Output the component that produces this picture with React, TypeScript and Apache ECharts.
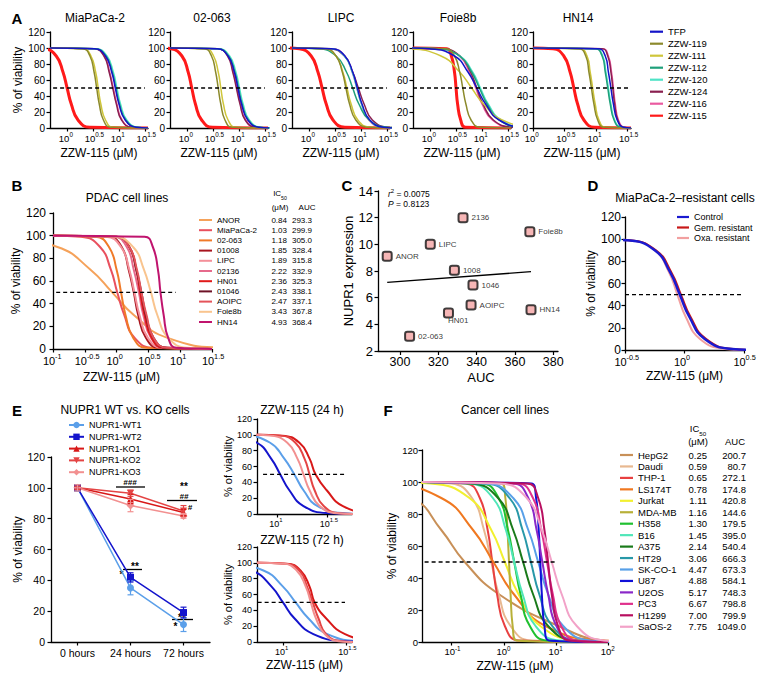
import React, { useEffect, useRef } from "react";
import * as echarts from "echarts";

const FONT = "'Liberation Sans', Arial, Helvetica, sans-serif";

// viability levels (%) at which each curve's log10 concentration was read
const LEVELS = [100, 99, 90, 70, 50, 30, 10, 1, 0];

// ---------- Panel A ----------
const A_COMPOUNDS = ["TFP", "ZZW-119", "ZZW-111", "ZZW-112", "ZZW-120", "ZZW-124", "ZZW-116", "ZZW-115"];
const A_COLORS = ["#1414c8", "#8c8a2c", "#cfc63a", "#1fa07a", "#4fe3c6", "#8a2050", "#ea5aa0", "#ff1a1a"];
const A_PANELS = ["MiaPaCa-2", "02-063", "LIPC", "Foie8b", "HN14"];
const A_MIAPACA2_X = [
  [-0.33, 0.53, 0.74, 0.86, 0.93, 1.0, 1.12, 1.33, 1.56],
  [-0.33, 0.3, 0.44, 0.52, 0.57, 0.62, 0.7, 0.84, 1.56],
  [-0.33, 0.31, 0.46, 0.55, 0.6, 0.65, 0.74, 0.89, 1.56],
  [-0.33, 0.54, 0.75, 0.87, 0.94, 1.01, 1.13, 1.34, 1.56],
  [-0.33, 0.56, 0.77, 0.89, 0.96, 1.03, 1.15, 1.36, 1.56],
  [-0.33, 0.52, 0.71, 0.81, 0.88, 0.95, 1.05, 1.24, 1.56],
  [-0.33, 0.53, 0.72, 0.82, 0.89, 0.96, 1.06, 1.25, 1.56],
  [-0.67, -0.44, -0.21, -0.08, 0.0, 0.08, 0.21, 0.44, 1.56],
];
const A_02063_X = [
  [-0.33, 0.58, 0.79, 0.91, 0.98, 1.05, 1.17, 1.38, 1.58],
  [-0.33, 0.33, 0.47, 0.55, 0.6, 0.65, 0.73, 0.87, 1.56],
  [-0.33, 0.36, 0.51, 0.6, 0.65, 0.7, 0.79, 0.94, 1.56],
  [-0.33, 0.59, 0.8, 0.92, 0.99, 1.06, 1.18, 1.39, 1.59],
  [-0.33, 0.61, 0.82, 0.94, 1.01, 1.08, 1.2, 1.41, 1.61],
  [-0.33, 0.59, 0.78, 0.88, 0.95, 1.02, 1.12, 1.31, 1.56],
  [-0.33, 0.6, 0.79, 0.89, 0.96, 1.03, 1.13, 1.32, 1.56],
  [-0.51, -0.31, -0.1, 0.02, 0.09, 0.16, 0.28, 0.49, 1.56],
];
const A_LIPC_X = [
  [-0.33, 0.43, 0.69, 0.84, 0.93, 1.02, 1.17, 1.43, 1.68],
  [-0.33, 0.31, 0.52, 0.64, 0.71, 0.78, 0.9, 1.11, 1.56],
  [-0.33, 0.29, 0.52, 0.65, 0.73, 0.81, 0.94, 1.17, 1.56],
  [-0.33, 0.17, 0.52, 0.72, 0.84, 0.96, 1.16, 1.51, 1.84],
  [-0.33, 0.42, 0.68, 0.83, 0.92, 1.01, 1.16, 1.42, 1.67],
  [-0.33, 0.38, 0.68, 0.84, 0.95, 1.06, 1.22, 1.52, 1.81],
  [-0.33, 0.44, 0.69, 0.83, 0.92, 1.01, 1.15, 1.4, 1.63],
  [-0.42, -0.19, 0.04, 0.17, 0.25, 0.33, 0.46, 0.69, 1.56],
];
const A_FOIE8B_X = [
  [-0.46, -0.01, 0.47, 0.73, 0.9, 1.07, 1.33, 1.81, 2.26],
  [-0.33, 0.3, 0.47, 0.57, 0.63, 0.69, 0.79, 0.96, 1.56],
  [-1.08, -0.45, 0.21, 0.57, 0.8, 1.03, 1.39, 2.05, 2.68],
  [-0.33, 0.15, 0.57, 0.8, 0.95, 1.1, 1.33, 1.75, 2.15],
  [-0.33, 0.14, 0.57, 0.82, 0.97, 1.12, 1.37, 1.8, 2.22],
  [-0.33, 0.23, 0.58, 0.78, 0.9, 1.02, 1.22, 1.57, 1.9],
  [-0.33, 0.21, 0.56, 0.76, 0.88, 1.0, 1.2, 1.55, 1.88],
  [-0.33, 0.32, 0.41, 0.47, 0.5, 0.53, 0.59, 0.68, 1.56],
];
const A_HN14_X = [
  [0, 1.04, 1.15, 1.2, 1.24, 1.28, 1.34, 1.44, 1.56],
  [0, 0.73, 0.84, 0.89, 0.93, 0.97, 1.03, 1.13, 1.56],
  [0, 0.75, 0.86, 0.91, 0.95, 0.99, 1.05, 1.15, 1.56],
  [0, 0.99, 1.1, 1.15, 1.19, 1.23, 1.29, 1.39, 1.56],
  [0, 1.0, 1.11, 1.16, 1.2, 1.24, 1.3, 1.4, 1.56],
  [0, 1.1, 1.19, 1.24, 1.27, 1.3, 1.35, 1.44, 1.56],
  [0, 1.11, 1.2, 1.25, 1.28, 1.31, 1.36, 1.45, 1.56],
  [0, 0.32, 0.49, 0.59, 0.65, 0.71, 0.81, 0.98, 1.56],
];
const A_RANGES = [[-0.33, 1.56], [-0.33, 1.56], [-0.33, 1.56], [-0.33, 1.56], [0, 1.56]];
const A_DASH = [[-0.27, 1.5], [-0.27, 1.5], [-0.27, 1.5], [-0.33, 1.5], [0, 1.56]];
const A_TICKS = [0, 0.5, 1, 1.5];

// ---------- Panel B ----------
const B_LINES = ["ANOR", "MiaPaCa-2", "02-063", "01008", "LIPC", "02136", "HN01", "01046", "AOIPC", "Foie8b", "HN14"];
const B_COLORS = ["#f5a25a", "#e9505e", "#f07a28", "#a8141e", "#f4909a", "#e66a8c", "#e01a1a", "#6e1226", "#e4545a", "#f9c48e", "#c0146e"];
const B_IC50 = [0.84, 1.03, 1.18, 1.85, 1.89, 2.22, 2.36, 2.43, 2.47, 3.43, 4.93];
const B_AUC = [293.3, 299.9, 305.0, 328.4, 315.8, 332.9, 325.3, 338.1, 337.1, 367.8, 368.4];
const B_X = [
  [-2.8, -1.89, -0.93, -0.41, -0.07, 0.27, 0.79, 1.75, 2.66],
  [-1.0, -0.56, -0.26, -0.09, 0.01, 0.12, 0.28, 0.58, 1.5],
  [-1.0, -0.33, -0.12, 0.0, 0.07, 0.14, 0.26, 0.47, 1.5],
  [-1.0, -0.13, 0.08, 0.19, 0.27, 0.34, 0.46, 0.67, 1.5],
  [-1.0, -0.17, 0.07, 0.2, 0.28, 0.36, 0.49, 0.72, 1.5],
  [-1.0, -0.05, 0.16, 0.27, 0.35, 0.42, 0.54, 0.75, 1.5],
  [-1.0, 0.01, 0.2, 0.31, 0.37, 0.44, 0.55, 0.74, 1.5],
  [-1.0, -0.01, 0.2, 0.31, 0.39, 0.46, 0.58, 0.79, 1.5],
  [-1.0, -0.01, 0.2, 0.32, 0.39, 0.47, 0.58, 0.79, 1.5],
  [-1.0, -0.04, 0.26, 0.43, 0.54, 0.64, 0.81, 1.11, 1.5],
  [-1.0, 0.44, 0.57, 0.65, 0.69, 0.74, 0.81, 0.94, 1.5],
];
const B_TICKS = [-1, -0.5, 0, 0.5, 1, 1.5];
const B_DASH = [-0.95, 0.93];

// ---------- Panel C ----------
const C_LABELS = ["ANOR", "02-063", "LIPC", "2136", "1008", "1046", "AOIPC", "HN01", "Foie8b", "HN14"];
const C_AUC = [293.3, 305.0, 315.8, 332.9, 328.4, 338.1, 337.1, 325.3, 367.8, 368.4];
const C_NUPR1 = [9.1, 3.1, 10.0, 12.0, 8.05, 6.95, 5.45, 4.85, 10.95, 5.1];
const C_FIT_AUC = [293.3, 368.4];
const C_FIT_NUPR1 = [7.15, 7.95];
const C_XTICKS = [300, 320, 340, 360, 380];

// ---------- Panel D ----------
const D_NAMES = ["Control", "Gem. resistant", "Oxa. resistant"];
const D_COLORS = ["#1a1ad0", "#c81818", "#f2a0a0"];
const D_X = [
  [-0.71, -0.48, -0.25, -0.12, -0.04, 0.04, 0.17, 0.4, 0.63],
  [-0.7, -0.47, -0.24, -0.11, -0.03, 0.05, 0.18, 0.41, 0.64],
  [-0.66, -0.46, -0.25, -0.13, -0.06, 0.01, 0.13, 0.34, 0.5],
];
const D_TICKS = [-0.5, 0, 0.5];
const D_DASH = [-0.5, 0.5];

// ---------- Panel E ----------
const E_TIMES = ["0 hours", "24 hours", "72 hours"];
const E_NAMES = ["NUPR1-WT1", "NUPR1-WT2", "NUPR1-KO1", "NUPR1-KO2", "NUPR1-KO3"];
const E_COLORS = ["#5b9fe9", "#1414cc", "#d81818", "#e44444", "#f29090"];
const E_MEAN = [
  [100, 35.1, 11.3],
  [100, 41.9, 19.1],
  [100, 92.8, 84.0],
  [100, 96.5, 85.0],
  [100, 88.5, 81.8],
];
const E_SD = [
  [2, 4.5, 4.5],
  [1.5, 3, 3.5],
  [1, 3, 2],
  [1, 2, 3.5],
  [2, 4, 1.5],
];
const E24_X = [
  [0.42, 0.67, 0.93, 1.07, 1.17, 1.26, 1.4, 1.67, 1.92],
  [0.32, 0.55, 0.8, 0.94, 1.03, 1.12, 1.26, 1.51, 1.74],
  [0.8, 1.05, 1.22, 1.32, 1.38, 1.49, 1.65, 1.95, 2.24],
  [0.8, 1.03, 1.18, 1.27, 1.32, 1.37, 1.46, 1.61, 1.75],
  [0.76, 0.93, 1.1, 1.2, 1.26, 1.32, 1.42, 1.59, 1.76],
];
const E72_X = [
  [0.31, 0.57, 0.85, 1.0, 1.1, 1.2, 1.35, 1.63, 1.89],
  [0.25, 0.5, 0.76, 0.91, 1.0, 1.09, 1.24, 1.5, 1.75],
  [0.795, 1.03, 1.14, 1.21, 1.25, 1.34, 1.49, 1.75, 2.0],
  [0.795, 1.01, 1.13, 1.19, 1.235, 1.28, 1.34, 1.46, 1.57],
  [0.795, 1.0, 1.11, 1.18, 1.22, 1.26, 1.33, 1.44, 1.55],
];
const E_SMALL_TICKS = [1, 1.5];
const E24_DASH = [0.86, 1.67];
const E72_DASH = [0.8, 1.49];

// ---------- Panel F ----------
const F_LINES = ["HepG2", "Daudi", "THP-1", "LS174T", "Jurkat", "MDA-MB", "H358", "B16", "A375", "HT29", "SK-CO-1", "U87", "U2OS", "PC3", "H1299", "SaOS-2"];
const F_COLORS = ["#c89058", "#e8b890", "#e84040", "#f07820", "#f2f030", "#b8b038", "#20c030", "#50e6b8", "#1a7a1a", "#2898a8", "#58a0e8", "#1010d8", "#8a28c8", "#e0308c", "#b80f60", "#f2a2c8"];
const F_IC50 = [0.25, 0.59, 0.65, 0.78, 1.11, 1.16, 1.3, 1.45, 2.14, 3.06, 4.47, 4.88, 5.17, 6.67, 7.0, 7.75];
const F_AUC = [200.7, 80.7, 272.1, 174.8, 420.8, 144.6, 179.5, 395.0, 540.4, 666.3, 673.3, 584.1, 748.3, 798.8, 799.9, 1049.0];
const F_X = [
  [-3.5, -2.8, -1.75, -1.2, -0.75, -0.1, 1.05, 1.9, 2.4],
  [-1.57, -1.01, -0.61, -0.38, -0.24, -0.1, 0.13, 0.53, 2.0],
  [-1.57, -0.73, -0.46, -0.31, -0.22, -0.13, 0.02, 0.29, 2.0],
  [-3.36, -2.3, -1.2, -0.59, -0.2, 0.19, 0.8, 1.9, 2.96],
  [-2.12, -1.41, -0.66, -0.24, 0.02, 0.28, 0.7, 1.45, 2.16],
  [-1.57, -0.04, 0.03, 0.07, 0.1, 0.13, 0.17, 0.24, 2.0],
  [-1.57, -0.43, -0.1, 0.08, 0.2, 0.32, 0.5, 0.83, 2.0],
  [-1.57, -0.67, -0.21, 0.04, 0.2, 0.36, 0.61, 1.07, 2.0],
  [-1.57, -0.63, -0.11, 0.18, 0.37, 0.56, 0.85, 1.37, 2.0],
  [-1.57, -0.35, 0.11, 0.36, 0.52, 0.68, 0.93, 1.39, 2.0],
  [-1.57, -0.34, 0.18, 0.47, 0.66, 0.85, 1.14, 1.66, 2.16],
  [-1.57, 0.53, 0.62, 0.67, 0.7, 0.73, 0.78, 0.87, 2.0],
  [-1.57, 0.17, 0.47, 0.63, 0.74, 0.85, 1.01, 1.31, 2.0],
  [-1.57, 0.26, 0.56, 0.72, 0.83, 0.94, 1.1, 1.4, 2.0],
  [-1.57, 0.45, 0.66, 0.78, 0.85, 0.92, 1.04, 1.25, 2.0],
  [-1.57, -0.08, 0.44, 0.73, 0.92, 1.11, 1.4, 1.92, 2.42],
];
const F_TICKS = [-1, 0, 1, 2];
const F_DASH = [-1.52, 1.02];

// ---------- helpers ----------
const BLACK = "#000";
const axisLine = { show: true, onZero: false, lineStyle: { color: BLACK, width: 1.3 } };

type LogStyle = { fs: number; margin: number; shift: number };

// log10 axis: "10" base labels on the main axis, exponents on a companion axis
function logX(gi: number, min: number, max: number, ticks: number[], st: LogStyle, name?: string, nameGap = 20, nameSize = 12, namePad?: number[]) {
  return {
    type: "value", gridIndex: gi, min, max,
    axisLine,
    axisTick: { show: true, length: 3.5, customValues: ticks, lineStyle: { color: BLACK, width: 1.2 } },
    axisLabel: {
      customValues: ticks, margin: st.margin, hideOverlap: false, align: "center",
      padding: [0, st.shift, 0, 0], lineHeight: st.fs,
      formatter: () => "10", fontFamily: FONT, fontSize: st.fs, color: BLACK,
    },
    splitLine: { show: false },
    name: name || "", nameLocation: "middle", nameGap,
    nameTextStyle: { fontFamily: FONT, fontSize: nameSize, color: BLACK, padding: namePad || 0 },
  };
}
function expX(gi: number, min: number, max: number, ticks: number[], st: LogStyle) {
  const sfs = Math.round(st.fs * 0.66 * 10) / 10;
  const baseW = st.fs * 1.112;
  return {
    type: "value", gridIndex: gi, min, max, position: "bottom",
    axisLine: { show: false, onZero: false },
    axisTick: { show: false },
    splitLine: { show: false },
    axisLabel: {
      customValues: ticks, margin: st.margin - 2, hideOverlap: false, align: "left",
      padding: [0, 0, 0, Math.max(0, (baseW - st.shift) / 2)], lineHeight: sfs,
      formatter: (v: number) => String(Math.round(v * 10) / 10),
      fontFamily: FONT, fontSize: sfs, color: BLACK,
    },
  };
}
function linY(gi: number, min: number, max: number, interval: number, fs: number, margin: number, name?: string, nameGap = 24, nameSize = 12) {
  return {
    type: "value", gridIndex: gi, min, max, interval,
    axisLine,
    axisTick: { show: true, length: 3.5, lineStyle: { color: BLACK, width: 1.2 } },
    axisLabel: { margin, fontFamily: FONT, fontSize: fs, lineHeight: fs, color: BLACK, hideOverlap: false },
    splitLine: { show: false },
    name: name || "", nameLocation: "middle", nameGap,
    nameTextStyle: { fontFamily: FONT, fontSize: nameSize, color: BLACK },
  };
}
function curve(name: string, xs: number[], color: string, gi: number, width = 1.5) {
  return {
    type: "line", name, xAxisIndex: gi, yAxisIndex: gi,
    data: xs.map((x, i) => [x, LEVELS[i]]),
    smooth: 0.5, symbol: "none", silent: true, clip: true,
    lineStyle: { color, width }, itemStyle: { color },
  };
}
function dash(gi: number, range: number[]) {
  return {
    type: "line", name: "_dash" + gi, xAxisIndex: gi, yAxisIndex: gi,
    data: [[range[0], 50], [range[1], 50]],
    symbol: "none", silent: true, z: 5,
    lineStyle: { color: BLACK, width: 1.4, type: [4, 3] },
  };
}
function txt(text: string, x: number, y: number, extra: any = {}) {
  return {
    type: "text", x, y, silent: true,
    style: { text, fontFamily: FONT, fontSize: 12, fill: BLACK, align: "center", verticalAlign: "middle", ...extra },
  };
}
function hline(x1: number, x2: number, y: number) {
  return { type: "line", silent: true, shape: { x1, y1: y, x2, y2: y }, style: { stroke: BLACK, lineWidth: 1.3 } };
}

function buildOption() {
  const grids = [
    { left: 50, top: 32, width: 98, height: 96 },
    { left: 170, top: 32, width: 98, height: 96 },
    { left: 292, top: 32, width: 98, height: 96 },
    { left: 413, top: 32, width: 98, height: 96 },
    { left: 533, top: 32, width: 98, height: 96 },
    { left: 53, top: 213, width: 159, height: 136 },
    { left: 378, top: 191, width: 180, height: 160 },
    { left: 625, top: 217, width: 119, height: 133 },
    { left: 51, top: 457, width: 159, height: 185 },
    { left: 257, top: 419, width: 95, height: 95 },
    { left: 257, top: 547, width: 95, height: 95 },
    { left: 422, top: 450, width: 186, height: 192 },
  ];
  const stA: LogStyle = { fs: 9.5, margin: 5.5, shift: 6 };
  const stB: LogStyle = { fs: 11, margin: 6, shift: 8 };
  const stD: LogStyle = { fs: 11, margin: 6, shift: 9 };
  const stE: LogStyle = { fs: 9, margin: 5, shift: 6 };
  const stF: LogStyle = { fs: 9.5, margin: 5, shift: 4 };

  const xAxes: any[] = [];
  const expAxes: any[] = [];
  const yAxes: any[] = [];
  const A_DATA = [A_MIAPACA2_X, A_02063_X, A_LIPC_X, A_FOIE8B_X, A_HN14_X];
  for (let p = 0; p < 5; p++) {
    xAxes.push(logX(p, A_RANGES[p][0], A_RANGES[p][1], A_TICKS, stA, "ZZW-115 (μM)", 19));
    expAxes.push(expX(p, A_RANGES[p][0], A_RANGES[p][1], A_TICKS, stA));
    yAxes.push(linY(p, 0, 120, 20, 10, 5, p === 0 ? "% of viability" : "", 26));
  }
  xAxes.push(logX(5, -1, 1.5, B_TICKS, stB, "ZZW-115 (μM)", 22, 12, [0, 22, 0, 0]));
  expAxes.push(expX(5, -1, 1.5, B_TICKS, stB));
  yAxes.push(linY(5, 0, 120, 20, 12, 7, "% of viability", 26));
  xAxes.push({
    type: "value", gridIndex: 6, min: 288.5, max: 382.5,
    axisLine,
    axisTick: { show: true, length: 4, customValues: C_XTICKS, lineStyle: { color: BLACK, width: 1.2 } },
    axisLabel: { customValues: C_XTICKS, margin: 4, fontFamily: FONT, fontSize: 12.5, color: BLACK, hideOverlap: false },
    splitLine: { show: false },
    name: "AUC", nameLocation: "middle", nameGap: 20,
    nameTextStyle: { fontFamily: FONT, fontSize: 13, color: BLACK, padding: [0, 0, 0, 26] },
  });
  yAxes.push(linY(6, 2, 14, 2, 13, 5, "NUPR1 expression", 14, 13));
  xAxes.push(logX(7, -0.5, 0.5, D_TICKS, stD, "ZZW-115 (μM)", 20));
  expAxes.push(expX(7, -0.5, 0.5, D_TICKS, stD));
  yAxes.push(linY(7, 0, 120, 20, 12, 4, "% of viability", 25));
  xAxes.push({
    type: "category", gridIndex: 8, data: E_TIMES, boundaryGap: true,
    axisLine,
    axisTick: { show: true, length: 3.5, alignWithLabel: true, interval: 0, lineStyle: { color: BLACK, width: 1.2 } },
    axisLabel: { margin: 5, interval: 0, hideOverlap: false, fontFamily: FONT, fontSize: 10.5, color: BLACK },
  });
  yAxes.push(linY(8, 0, 120, 20, 10.5, 6, "% of viability", 26));
  xAxes.push(logX(9, 0.8, 1.74, E_SMALL_TICKS, stE));
  expAxes.push(expX(9, 0.8, 1.74, E_SMALL_TICKS, stE));
  yAxes.push(linY(9, 0, 120, 20, 9, 5, "% of viability", 22, 11));
  xAxes.push(logX(10, 0.795, 1.545, E_SMALL_TICKS, stE, "ZZW-115 (μM)", 17));
  expAxes.push(expX(10, 0.795, 1.545, E_SMALL_TICKS, stE));
  yAxes.push(linY(10, 0, 120, 20, 9, 5, "% of viability", 22, 11));
  xAxes.push(logX(11, -1.57, 2.0, F_TICKS, stF, "ZZW-115 (μM)", 18));
  expAxes.push(expX(11, -1.57, 2.0, F_TICKS, stF));
  yAxes.push(linY(11, 0, 120, 20, 9.5, 4, "% of viability", 22));

  const series: any[] = [];
  // A
  for (let p = 0; p < 5; p++) {
    for (let c = A_COMPOUNDS.length - 1; c >= 0; c--) {
      series.push(curve(A_COMPOUNDS[c], A_DATA[p][c], A_COLORS[c], p, c === 7 ? 3 : 1.5));
    }
    series.push(dash(p, A_DASH[p]));
  }
  // B
  for (let i = 0; i < B_LINES.length; i++) series.push(curve(B_LINES[i], B_X[i], B_COLORS[i], 5, 2));
  series.push(dash(5, B_DASH));
  // C
  series.push({
    type: "line", name: "_fit", xAxisIndex: 6, yAxisIndex: 6, symbol: "none", silent: true,
    data: C_FIT_AUC.map((x, i) => [x, C_FIT_NUPR1[i]]),
    lineStyle: { color: BLACK, width: 1.3 },
  });
  series.push({
    type: "scatter", name: "NUPR1", xAxisIndex: 6, yAxisIndex: 6, silent: true,
    symbol: "roundRect", symbolSize: 9,
    itemStyle: { color: "#f4a4a4", borderColor: "#111", borderWidth: 2 },
    label: { show: true, position: "right", distance: 3, formatter: "{b}", fontFamily: FONT, fontSize: 8, color: BLACK },
    data: C_LABELS.map((n, i) => ({
      name: n, value: [C_AUC[i], C_NUPR1[i]],
      label: n === "HN01" ? { offset: [-9, 7] } : undefined,
    })),
  });
  // D
  for (let i = D_NAMES.length - 1; i >= 0; i--) series.push(curve(D_NAMES[i], D_X[i], D_COLORS[i], 7, i === 0 ? 2.5 : 2));
  series.push(dash(7, D_DASH));
  // E main
  const symbols = ["circle", "rect", "triangle", "triangle", "diamond"];
  for (let i = 0; i < E_NAMES.length; i++) {
    series.push({
      type: "line", name: E_NAMES[i], xAxisIndex: 8, yAxisIndex: 8, silent: true,
      data: E_MEAN[i], symbol: symbols[i], symbolSize: i === 4 ? 8 : 7, symbolRotate: i === 3 ? 180 : 0,
      lineStyle: { color: E_COLORS[i], width: 1.5 }, itemStyle: { color: E_COLORS[i] }, z: 3,
    });
  }
  for (let i = 0; i < E_NAMES.length; i++) {
    const color = E_COLORS[i];
    series.push({
      type: "custom", name: "_err" + i, xAxisIndex: 8, yAxisIndex: 8, silent: true, z: 4,
      data: E_MEAN[i].map((m, j) => [j, m - E_SD[i][j], m + E_SD[i][j]]),
      encode: { x: 0, y: [1, 2] },
      renderItem: (params: any, api: any) => {
        const p1 = api.coord([api.value(0), api.value(1)]);
        const p2 = api.coord([api.value(0), api.value(2)]);
        const st = { stroke: color, lineWidth: 1.2 };
        return {
          type: "group",
          children: [
            { type: "line", shape: { x1: p1[0], y1: p1[1], x2: p2[0], y2: p2[1] }, style: st },
            { type: "line", shape: { x1: p1[0] - 3, y1: p1[1], x2: p1[0] + 3, y2: p1[1] }, style: st },
            { type: "line", shape: { x1: p2[0] - 3, y1: p2[1], x2: p2[0] + 3, y2: p2[1] }, style: st },
          ],
        };
      },
    });
  }
  // E small panels
  for (let i = 0; i < E_NAMES.length; i++) series.push(curve(E_NAMES[i], E24_X[i], E_COLORS[i], 9, 2));
  series.push(dash(9, E24_DASH));
  for (let i = 0; i < E_NAMES.length; i++) series.push(curve(E_NAMES[i], E72_X[i], E_COLORS[i], 10, 2));
  series.push(dash(10, E72_DASH));
  // F
  for (let i = 0; i < F_LINES.length; i++) series.push(curve(F_LINES[i], F_X[i], F_COLORS[i], 11, 2));
  series.push(dash(11, F_DASH));

  const legendText = (fs: number, lh: number) => ({ fontFamily: FONT, fontSize: fs, color: BLACK, lineHeight: lh });
  const legends = [
    {
      data: A_COMPOUNDS.map((n) => ({ name: n, icon: "rect" })),
      orient: "vertical", left: 650, top: 26.7, padding: 0, itemWidth: 13, itemHeight: 2.2, itemGap: 2,
      selectedMode: false, textStyle: legendText(9.5, 10),
    },
    {
      data: B_LINES.map((n) => ({ name: n, icon: "rect" })),
      orient: "vertical", left: 199, top: 215.5, padding: 0, itemWidth: 13, itemHeight: 2, itemGap: 1.2,
      selectedMode: false,
      formatter: (name: string) => {
        const i = B_LINES.indexOf(name);
        return `{n|${name}}{i|${B_IC50[i].toFixed(2)}}{a|${B_AUC[i].toFixed(1)}}`;
      },
      textStyle: {
        ...legendText(8, 9),
        rich: {
          n: { fontFamily: FONT, fontSize: 8, color: BLACK, width: 48, lineHeight: 9 },
          i: { fontFamily: FONT, fontSize: 8, color: BLACK, width: 22, align: "right", lineHeight: 9 },
          a: { fontFamily: FONT, fontSize: 8, color: BLACK, width: 25, align: "right", lineHeight: 9 },
        },
      },
    },
    {
      data: D_NAMES.map((n) => ({ name: n, icon: "rect" })),
      orient: "vertical", left: 677, top: 212.5, padding: 0, itemWidth: 12, itemHeight: 2.2, itemGap: 1.5,
      selectedMode: false, textStyle: legendText(9, 9),
    },
    {
      data: E_NAMES, orient: "vertical", left: 68, top: 420.5, padding: 0, itemWidth: 15, itemHeight: 8, itemGap: 2.8,
      selectedMode: false, textStyle: legendText(9, 8),
    },
    {
      data: F_LINES.map((n) => ({ name: n, icon: "rect" })),
      orient: "vertical", left: 620, top: 450, padding: 0, itemWidth: 13, itemHeight: 2.2, itemGap: 1.45,
      selectedMode: false,
      formatter: (name: string) => {
        const i = F_LINES.indexOf(name);
        return `{n|${name}}{i|${F_IC50[i].toFixed(2)}}{a|${F_AUC[i].toFixed(1)}}`;
      },
      textStyle: {
        ...legendText(9.5, 10),
        rich: {
          n: { fontFamily: FONT, fontSize: 9.5, color: BLACK, width: 41, lineHeight: 10 },
          i: { fontFamily: FONT, fontSize: 9.5, color: BLACK, width: 28, align: "right", lineHeight: 10 },
          a: { fontFamily: FONT, fontSize: 9.5, color: BLACK, width: 39, align: "right", lineHeight: 10 },
        },
      },
    },
  ];

  const letter = (t: string, x: number, y: number) => txt(t, x, y, { fontSize: 15, fontWeight: "bold" });
  const ic50 = (x: number, y: number, fs: number) => ({
    type: "text", x, y, silent: true,
    style: {
      text: "{a|IC}{s|50}", align: "center", verticalAlign: "middle",
      rich: {
        a: { fontFamily: FONT, fontSize: fs, fill: BLACK, color: BLACK, lineHeight: fs + 3, verticalAlign: "top" },
        s: { fontFamily: FONT, fontSize: fs * 0.65, fill: BLACK, color: BLACK, lineHeight: fs * 0.65, verticalAlign: "bottom" },
      },
    },
  });
  const graphic: any[] = [
    letter("A", 17, 18), letter("B", 17, 185), letter("C", 347, 185),
    letter("D", 593, 185), letter("E", 17, 410), letter("F", 388, 410),
  ];
  const A_TITLE_X = [95, 212, 341, 458, 578];
  A_PANELS.forEach((t, i) => graphic.push(txt(t, A_TITLE_X[i], 18)));
  graphic.push(txt("PDAC cell lines", 127, 198));
  graphic.push(txt("MiaPaCa-2–resistant cells", 685, 198));
  graphic.push(txt("NUPR1 WT vs. KO cells", 125, 410));
  graphic.push(txt("ZZW-115 (24 h)", 302, 410));
  graphic.push(txt("ZZW-115 (72 h)", 302, 540));
  graphic.push(txt("Cancer cell lines", 505, 410));
  // B table header
  graphic.push(ic50(280, 195, 8));
  graphic.push(txt("(μM)", 280, 207, { fontSize: 8 }));
  graphic.push(txt("AUC", 307, 207, { fontSize: 8 }));
  // F table header
  graphic.push(ic50(698, 430, 9.5));
  graphic.push(txt("(μM)", 698, 441.5, { fontSize: 9.5 }));
  graphic.push(txt("AUC", 735, 441.5, { fontSize: 9.5 }));
  // C stats
  graphic.push({
    type: "text", x: 388, y: 193, silent: true,
    style: {
      text: "{i|r}{s|2}{t| = 0.0075}", align: "left", verticalAlign: "middle",
      rich: {
        i: { fontFamily: FONT, fontSize: 8.5, fontStyle: "italic", color: BLACK, lineHeight: 11, verticalAlign: "bottom" },
        s: { fontFamily: FONT, fontSize: 6, color: BLACK, lineHeight: 7, verticalAlign: "top" },
        t: { fontFamily: FONT, fontSize: 8.5, color: BLACK, lineHeight: 11, verticalAlign: "bottom" },
      },
    },
  });
  graphic.push({
    type: "text", x: 388, y: 204, silent: true,
    style: {
      text: "{i|P}{t| = 0.8123}", align: "left", verticalAlign: "middle",
      rich: {
        i: { fontFamily: FONT, fontSize: 8.5, fontStyle: "italic", color: BLACK, lineHeight: 11 },
        t: { fontFamily: FONT, fontSize: 8.5, color: BLACK, lineHeight: 11 },
      },
    },
  });
  // E significance annotations
  const star = (t: string, x: number, y: number) => txt(t, x, y, { fontSize: 10, fontWeight: "bold" });
  const hash = (t: string, x: number, y: number) => txt(t, x, y, { fontSize: 8, fontWeight: "bold", fontStyle: "italic" });
  graphic.push(hash("###", 130, 482), hline(116, 145, 487));
  graphic.push(star("**", 184, 486), hash("##", 184, 496), hline(167, 197, 500.5), hash("#", 190, 507));
  graphic.push(star("**", 135, 566), hline(123, 142, 569.5), star("*", 121.5, 574));
  graphic.push(star("**", 182, 617), hline(172, 193, 619.5), star("*", 175.5, 626));

  return {
    animation: false,
    backgroundColor: "#fff",
    textStyle: { fontFamily: FONT },
    grid: grids,
    xAxis: xAxes.concat(expAxes),
    yAxis: yAxes,
    legend: legends,
    series,
    graphic,
  };
}

export default function App() {
  const ref = useRef<HTMLDivElement>(null);
  useEffect(() => {
    if (!ref.current) return;
    const chart = echarts.init(ref.current, null, { renderer: "svg" });
    chart.setOption(buildOption() as any);
    return () => chart.dispose();
  }, []);
  return (
    <div
      ref={ref}
      style={{ position: "absolute", left: 0, top: 0, width: 764, height: 684, background: "#fff" }}
    />
  );
}
